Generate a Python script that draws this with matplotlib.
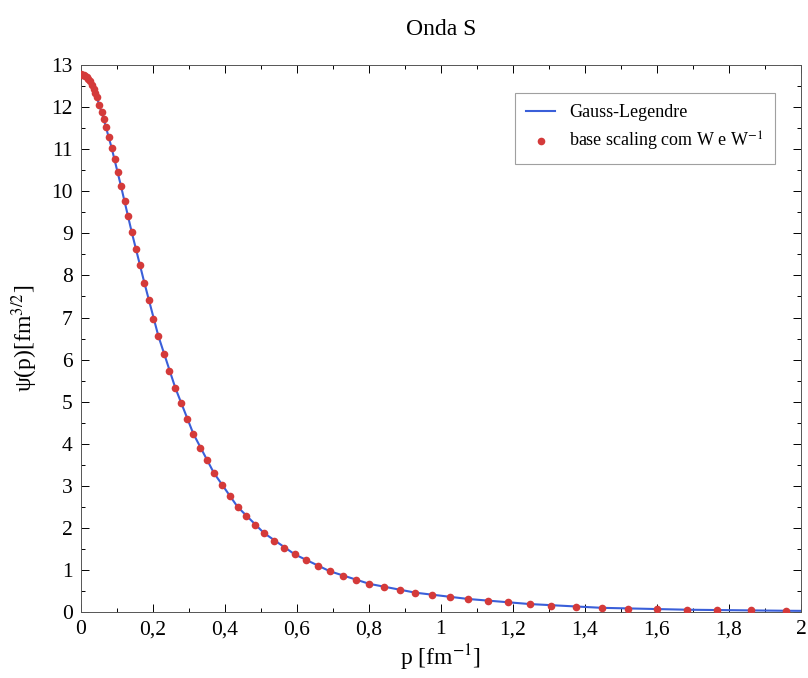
import matplotlib
matplotlib.use('Agg')
import matplotlib.pyplot as plt
from matplotlib.ticker import MultipleLocator, FuncFormatter

plt.rcParams['font.family'] = ['Liberation Serif', 'DejaVu Serif']
plt.rcParams['mathtext.fontset'] = 'stix'

# base scaling com W e W^-1 (pontos)
p_bs = [0.000, 0.004, 0.008, 0.012, 0.016, 0.020, 0.025, 0.030, 0.035, 0.040, 0.045,
        0.051, 0.0575, 0.063, 0.070, 0.078, 0.085, 0.094, 0.102, 0.111, 0.121,
        0.131, 0.141, 0.153, 0.164, 0.176, 0.189, 0.201, 0.215, 0.231, 0.245,
        0.262, 0.277, 0.294, 0.312, 0.331, 0.350, 0.369, 0.392, 0.413, 0.435,
        0.458, 0.483, 0.508, 0.536, 0.564, 0.594, 0.625, 0.658, 0.691, 0.727,
        0.763, 0.801, 0.843, 0.885, 0.929, 0.975, 1.024, 1.076, 1.130, 1.186,
        1.246, 1.307, 1.375, 1.446, 1.519, 1.599, 1.683, 1.768, 1.860, 1.958]
psi_bs = [12.78, 12.775, 12.76, 12.74, 12.71, 12.67, 12.61, 12.53, 12.44, 12.34, 12.23,
          12.06, 11.88, 11.72, 11.52, 11.29, 11.04, 10.76, 10.45, 10.13, 9.78,
          9.41, 9.03, 8.64, 8.24, 7.83, 7.41, 6.97, 6.56, 6.14, 5.72,
          5.33, 4.96, 4.59, 4.24, 3.91, 3.61, 3.31, 3.02, 2.76, 2.50,
          2.28, 2.07, 1.88, 1.70, 1.53, 1.37, 1.23, 1.09, 0.97, 0.86,
          0.77, 0.67, 0.60, 0.53, 0.46, 0.40, 0.36, 0.31, 0.26, 0.23,
          0.19, 0.15, 0.13, 0.10, 0.08, 0.064, 0.055, 0.048, 0.040, 0.030]

# Gauss-Legendre (linha)
p_gl = [0.000, 0.020, 0.040, 0.063, 0.085, 0.111, 0.141, 0.176, 0.215, 0.262,
        0.312, 0.369, 0.435, 0.508, 0.594, 0.691, 0.801, 0.929, 1.076, 1.246,
        1.446, 1.683, 1.958, 2.000]
psi_gl = [12.78, 12.67, 12.34, 11.72, 11.04, 10.13, 9.03, 7.83, 6.56, 5.33,
          4.24, 3.31, 2.50, 1.88, 1.37, 0.97, 0.67, 0.46, 0.31, 0.19,
          0.10, 0.055, 0.030, 0.028]

fig = plt.figure(figsize=(8.08, 6.78), dpi=100)
ax = fig.add_axes([0.1002, 0.0973, 0.8911, 0.8067])

ax.plot(p_gl, psi_gl, color='#3a5fd9', lw=1.5, label='Gauss-Legendre', zorder=2)
ax.plot(p_bs, psi_bs, 'o', color='#d43a3a', ms=5.5, mec='none',
        label='base scaling com W e W$^{-1}$', zorder=3)

ax.set_xlim(0, 2)
ax.set_ylim(0, 13)
ax.xaxis.set_major_locator(MultipleLocator(0.2))
ax.xaxis.set_minor_locator(MultipleLocator(0.1))
ax.yaxis.set_major_locator(MultipleLocator(1))
ax.yaxis.set_minor_locator(MultipleLocator(0.5))
ax.xaxis.set_major_formatter(FuncFormatter(lambda v, pos: ('%g' % round(v, 2)).replace('.', ',')))
ax.tick_params(which='both', direction='in', top=True, right=True, labelsize=15.5, pad=6)
ax.tick_params(which='major', length=6, width=0.7)
ax.tick_params(which='minor', length=3, width=0.7)
for s in ax.spines.values():
    s.set_linewidth(0.7)
    s.set_color('#555555')

ax.set_xlabel('p [fm$^{-1}$]', fontsize=17, labelpad=2)
ax.set_ylabel('\u03c8(p)[fm$^{3/2}$]', fontsize=17, labelpad=8)
ax.set_title('Onda S', fontsize=17, pad=22)

leg = ax.legend(loc='upper right', bbox_to_anchor=(0.976, 0.965), fontsize=13,
                fancybox=False, edgecolor='#888888', handlelength=1.6,
                borderpad=0.6, labelspacing=0.5)
leg.get_frame().set_linewidth(0.8)

fig.savefig('out.png', dpi=100)
